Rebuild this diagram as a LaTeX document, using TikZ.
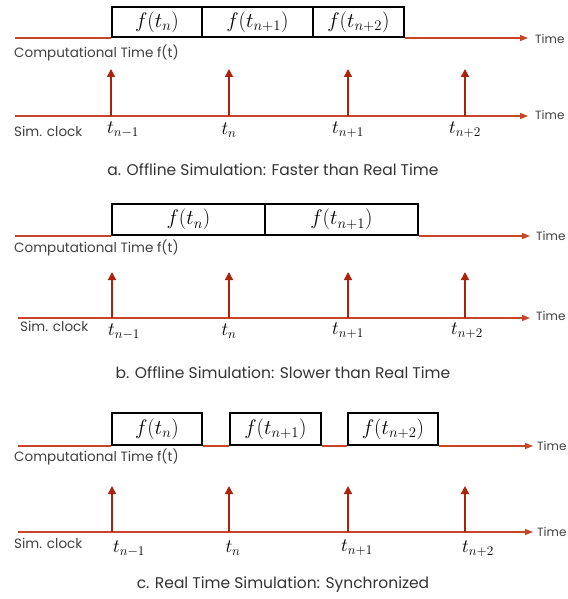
\documentclass[tikz,border=0pt]{standalone}
\usepackage{fix-cm}
\usepackage{fontspec}
\setmainfont{Poppins}
\usetikzlibrary{arrows.meta}
\definecolor{axisred}{RGB}{200,70,40}
\definecolor{tickred}{RGB}{170,35,10}
\tikzset{
  axis/.style={draw=axisred,line width=1.3pt,-{Triangle[length=8pt,width=6pt]}},
  flat/.style={draw=axisred,line width=1.3pt},
  tickarrow/.style={draw=tickred,line width=1.4pt,-{Triangle[length=8pt,width=8pt]}},
  fbox/.style={draw=black,line width=1.8pt,inner sep=0pt,anchor=south west,font=\fontsize{21}{22}\selectfont},
  timelbl/.style={anchor=west,font=\fontsize{12}{13}\selectfont,text=black!75,inner sep=0pt},
  axlbl/.style={anchor=west,font=\fontsize{13.5}{14}\selectfont,text=black!75,inner sep=0pt},
  tlbl/.style={font=\fontsize{19}{20}\selectfont,inner sep=0pt},
  caption/.style={font=\fontsize{15.5}{16}\selectfont,text=black!80,inner sep=0pt}
}
\begin{document}
\begin{tikzpicture}[x=1pt,y=-1pt]
\useasboundingbox (0,0) rectangle (567,599);
% ===== Panel a =====
\coordinate (a0) at (15,38);
\coordinate (aE) at (528,38);
\node[fbox,minimum width=90pt,minimum height=30pt] (a1) at (111,38) {$f(t_n)$};
\node[fbox,minimum width=111pt,minimum height=30pt] (a2) at (201,38) {$f(t_{n+1})$};
\node[fbox,minimum width=91pt,minimum height=30pt] (a3) at (312,38) {$f(t_{n+2})$};
\draw[flat] (a0) -- (a1.south west);
\draw[axis] (a3.south east) -- (aE);
\node[timelbl] (aT1) at (535,39) {Time};
\node[axlbl] (aC) at (14,53) {Computational Time f(t)};
\coordinate (as0) at (15,116);
\coordinate (asE) at (528,116);
\draw[axis] (as0) -- (asE);
\node[timelbl] (aT2) at (535,115) {Time};
\foreach \n/\x in {1/111,2/229,3/348,4/465}{
  \coordinate (ab\n) at (\x,116);
  \coordinate (at\n) at (\x,69);
  \draw[tickarrow] (ab\n) -- (at\n);
}
\node[axlbl] (aS) at (14,131) {Sim. clock};
\node[tlbl] (al1) at (123,130) {$t_{n-1}$};
\node[tlbl] (al2) at (229,130) {$t_{n}$};
\node[tlbl] (al3) at (348,130) {$t_{n+1}$};
\node[tlbl] (al4) at (465,130) {$t_{n+2}$};
\node[caption] (acap) at (273,170) {a. Offline Simulation: Faster than Real Time};
% ===== Panel b =====
\coordinate (b0) at (15,236);
\coordinate (bE) at (530,236);
\node[fbox,minimum width=153pt,minimum height=31pt] (b1) at (111,236) {$f(t_n)$};
\node[fbox,minimum width=153pt,minimum height=31pt] (b2) at (264,236) {$f(t_{n+1})$};
\draw[flat] (b0) -- (b1.south west);
\draw[axis] (b2.south east) -- (bE);
\node[timelbl] (bT1) at (536,236) {Time};
\node[axlbl] (bC) at (14,248) {Computational Time f(t)};
\coordinate (bs0) at (18,318);
\coordinate (bsE) at (530,318);
\draw[axis] (bs0) -- (bsE);
\node[timelbl] (bT2) at (536,316) {Time};
\foreach \n/\x in {1/112,2/229,3/348,4/465}{
  \coordinate (bb\n) at (\x,318);
  \coordinate (bt\n) at (\x,272);
  \draw[tickarrow] (bb\n) -- (bt\n);
}
\node[axlbl] (bS) at (20,326) {Sim. clock};
\node[tlbl] (bl1) at (124,332) {$t_{n-1}$};
\node[tlbl] (bl2) at (229,331) {$t_{n}$};
\node[tlbl] (bl3) at (348,331) {$t_{n+1}$};
\node[tlbl] (bl4) at (467,331) {$t_{n+2}$};
\node[caption] (bcap) at (283,373) {b. Offline Simulation: Slower than Real Time};
% ===== Panel c =====
\coordinate (c0) at (18,446);
\coordinate (cE) at (533,446);
\node[fbox,minimum width=90pt,minimum height=32pt] (c1) at (111,446) {$f(t_n)$};
\node[fbox,minimum width=91pt,minimum height=32pt] (c2) at (229,446) {$f(t_{n+1})$};
\node[fbox,minimum width=90pt,minimum height=32pt] (c3) at (347,446) {$f(t_{n+2})$};
\draw[flat] (c0) -- (c1.south west);
\draw[flat] (c1.south east) -- (c2.south west);
\draw[flat] (c2.south east) -- (c3.south west);
\draw[axis] (c3.south east) -- (cE);
\node[timelbl] (cT1) at (537,446) {Time};
\node[axlbl] (cC) at (14,457) {Computational Time f(t)};
\coordinate (cs0) at (18,532);
\coordinate (csE) at (533,532);
\draw[axis] (cs0) -- (csE);
\node[timelbl] (cT2) at (537,532) {Time};
\foreach \n/\x in {1/112,2/229,3/348,4/465}{
  \coordinate (cb\n) at (\x,532);
  \coordinate (ct\n) at (\x,486);
  \draw[tickarrow] (cb\n) -- (ct\n);
}
\node[axlbl] (cS) at (14,543) {Sim. clock};
\node[tlbl] (cl1) at (129,549) {$t_{n-1}$};
\node[tlbl] (cl2) at (233,548) {$t_{n}$};
\node[tlbl] (cl3) at (357,548) {$t_{n+1}$};
\node[tlbl] (cl4) at (478,549) {$t_{n+2}$};
\node[caption] (ccap) at (283,585) {c. Real Time Simulation: Synchronized};
\end{tikzpicture}
\end{document}
